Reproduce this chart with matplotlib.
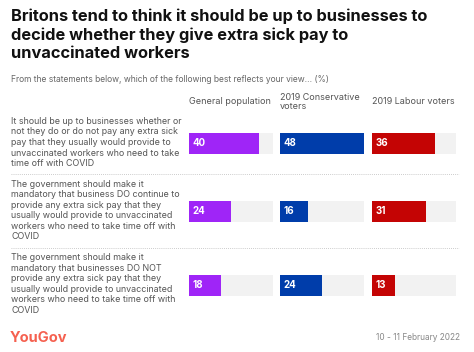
import matplotlib.pyplot as plt

# Данные
groups = ['General population', '2019 Conservative\nvoters', '2019 Labour voters']
statements = [
    'It should be up to businesses whether or\nnot they do or do not pay any extra sick\npay that they usually would provide to\nunvaccinated workers who need to take\ntime off with COVID',
    'The government should make it\nmandatory that business DO continue to\nprovide any extra sick pay that they\nusually would provide to unvaccinated\nworkers who need to take time off with\nCOVID',
    'The government should make it\nmandatory that businesses DO NOT\nprovide any extra sick pay that they\nusually would provide to unvaccinated\nworkers who need to take time off with\nCOVID',
]
general = [40, 24, 18]
conservative = [48, 16, 24]
labour = [36, 31, 13]
colors = ['#9F25F7', '#003DAA', '#C40404']

W, H = 474, 352
fig = plt.figure(figsize=(W / 100, H / 100), dpi=100)
fig.set_facecolor('white')
plt.rcParams['font.family'] = ['Inter', 'DejaVu Sans']

def fx(px):
    return px / W

def fy(py):
    return 1 - py / H

# Заголовок
fig.text(fx(11), fy(9), 'Britons tend to think it should be up to businesses to\n'
         'decide whether they give extra sick pay to\nunvaccinated workers',
         fontsize=11.8, fontweight='bold', color='#111111', va='top', ha='left',
         linespacing=1.25)
fig.text(fx(11), fy(80), 'From the statements below, which of the following best reflects your view... (%)',
         fontsize=6.1, color='#666666', va='center', ha='left')

# Позиции строк (в пикселях)
row_y = [143.5, 211.5, 285]
bar_h = 21
col_x = [189, 280, 372]
col_w = 84
top, bottom = 110, 310

values = [general, conservative, labour]
for c in range(3):
    ax = fig.add_axes([fx(col_x[c]), fy(bottom), fx(col_w), (bottom - top) / H])
    ax.set_xlim(0, 48)
    ax.set_ylim(bottom, top)
    ax.barh(row_y, [48] * 3, height=bar_h, color='#F2F2F2')
    ax.barh(row_y, values[c], height=bar_h, color=colors[c])
    for y, v in zip(row_y, values[c]):
        ax.text(2, y, str(v), color='white', fontsize=7, fontweight='bold',
                va='center', ha='left')
    ax.axis('off')
    fig.text(fx(col_x[c]), fy(102), groups[c], fontsize=6.5, color='#555555',
             va='center', ha='left', linespacing=1.1)

# Подписи утверждений
for s, y in zip(statements, row_y):
    fig.text(fx(11), fy(y - 1), s, fontsize=6.4, color='#555555', va='center',
             ha='left', linespacing=1.22)

# Пунктирные разделители
for y in [174, 248]:
    fig.add_artist(plt.Line2D([fx(11), fx(459)], [fy(y), fy(y)], color='#bbbbbb',
                              linestyle=(0, (1, 1.5)), linewidth=0.6))

fig.text(fx(10), fy(338), 'YouGov', fontsize=10.5, fontweight='bold', color='#F5604F',
         va='center', ha='left')
fig.text(fx(460), fy(338), '10 - 11 February 2022', fontsize=6, color='#888888',
         va='center', ha='right')

fig.savefig('out.png', dpi=100)
